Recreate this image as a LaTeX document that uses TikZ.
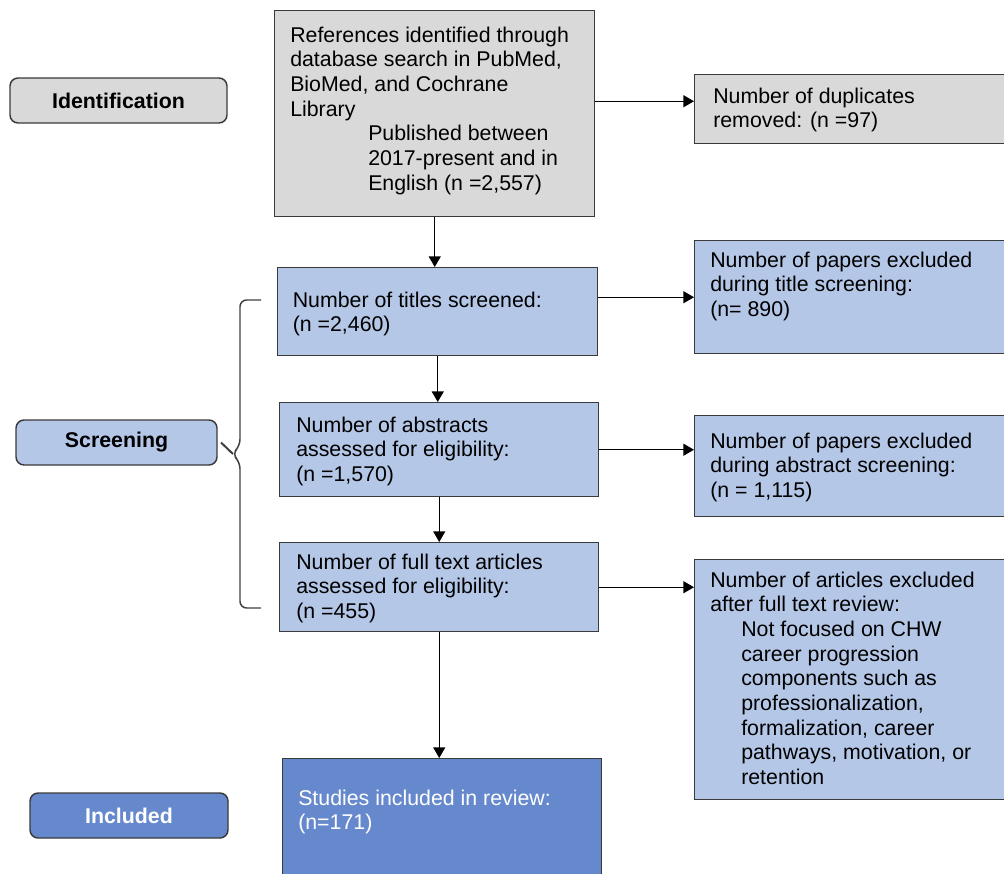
\documentclass[tikz,border=0pt]{standalone}
\usepackage{fontspec}
\setmainfont{Liberation Sans}
\usepackage{xcolor}
\usetikzlibrary{arrows.meta,calc,positioning}

\definecolor{boxgray}{HTML}{D9D9D9}
\definecolor{boxblue}{HTML}{B4C7E7}
\definecolor{incblue}{HTML}{6689CD}
\definecolor{edgec}{HTML}{3A3A3A}

\begin{document}
\begin{tikzpicture}[x=0.75pt,y=-0.75pt,
  font=\fontsize{16}{18.5}\selectfont,
  bx/.style={draw=edgec,line width=1.1pt,fill=#1,anchor=north west,inner sep=0pt},
  bx/.default=boxblue,
  txt/.style={anchor=north west,inner sep=0pt,align=left},
  stage/.style={draw=edgec,line width=1.1pt,rounded corners=6pt,fill=#1,
    minimum height=33.75pt,inner sep=0pt,font=\fontsize{16}{18.5}\selectfont\bfseries},
  arr/.style={-{Triangle[length=8pt,width=9pt]},line width=1pt}]
  \useasboundingbox (0,0) rectangle (1004,874);
  \clip (0,0) rectangle (1004,874);

  % stage labels on the left
  \node[stage=boxgray,minimum width=162.75pt] (ident) at (118.5,100.5) {Identification};
  \node[stage=boxblue,minimum width=150.75pt] (screen) at (116.5,442.5) {Screening};
  \node[stage=incblue,minimum width=148.5pt,text=white] (incl) at (129,815.5) {Included};

  % main column
  \node[bx=boxgray,minimum width=240pt,minimum height=154.5pt] (refs) at (274,10) {};
  \node[bx,minimum width=240pt,minimum height=66pt] (titles) at (277,267) {};
  \node[bx,minimum width=239.25pt,minimum height=70.5pt] (abstr) at (279,402) {};
  \node[bx,minimum width=239.25pt,minimum height=66.75pt] (fulltx) at (279,542) {};
  \node[bx=incblue,minimum width=239.25pt,minimum height=91.5pt] (study) at (282,758) {};

  % exclusions on the right
  \node[bx=boxgray,minimum width=237pt,minimum height=51.75pt] (dupl) at (694,74) {};
  \node[bx,minimum width=237pt,minimum height=84.75pt] (exttl) at (694,240) {};
  \node[bx,minimum width=237pt,minimum height=75.75pt] (exabs) at (694,415) {};
  \node[bx,minimum width=237pt,minimum height=180pt] (exful) at (694,559) {};

  % box texts
  \node[txt] (refs-t) at (290,26.5) {References identified through\\database search in PubMed,\\BioMed, and Cochrane\\Library\\
    \hspace*{58.5pt}Published between\\\hspace*{58.5pt}2017-present and in\\\hspace*{58.5pt}English (n =2,557)};
  \node[txt] (titles-t) at (292.5,291.5) {Number of titles screened:\\(n =2,460)};
  \node[txt] (abstr-t) at (296,416.5) {Number of abstracts\\assessed for eligibility:\\(n =1,570)};
  \node[txt] (fulltx-t) at (296,553.5) {Number of full text articles\\assessed for eligibility:\\(n =455)};
  \node[txt,text=white] (study-t) at (298,789.5) {Studies included in review:\\(n=171)};
  \node[txt] (dupl-t) at (713,87.5) {Number of duplicates\\removed: (n =97)};
  \node[txt] (exttl-t) at (710,251.5) {Number of papers excluded\\during title screening:\\(n= 890)};
  \node[txt] (exabs-t) at (710,432.5) {Number of papers excluded\\during abstract screening:\\(n = 1,115)};
  \node[txt] (exful-t) at (710,571.5) {Number of articles excluded\\after full text review:\\
    \hspace*{23.25pt}Not focused on CHW\\\hspace*{23.25pt}career progression\\\hspace*{23.25pt}components such as\\
    \hspace*{23.25pt}professionalization,\\\hspace*{23.25pt}formalization, career\\\hspace*{23.25pt}pathways, motivation, or\\
    \hspace*{23.25pt}retention};

  % arrows
  \draw[arr] (refs.south) -- (refs.south |- titles.north);
  \draw[arr] (titles.south) -- (titles.south |- abstr.north);
  \draw[arr] (abstr.south) -- (abstr.south |- fulltx.north);
  \draw[arr] (fulltx.south) -- (fulltx.south |- study.north);
  \draw[arr] ([yshift=6pt]refs.east |- dupl.west) -- ([yshift=6pt]dupl.west);
  \draw[arr] (titles.east |- exttl.west) -- (exttl.west);
  \draw[arr] (abstr.east) -- (abstr.east -| exabs.west);
  \draw[arr] (fulltx.east) -- (fulltx.east -| exful.west);

  % brace for the screening stage
  \coordinate (brtop) at (261,300);
  \coordinate (brbot) at (261,608);
  \coordinate (brtip) at (screen.east -| 221,454);
  \draw[draw=black!75,line width=1.1pt,rounded corners=5pt]
    (brtop) -- (240,300) -- (240,446) -- (232,454) -- (240,462) -- (240,608) -- (brbot);
  \draw[draw=black!75,line width=1.5pt] (brtip) -- (233,454);
\end{tikzpicture}
\end{document}
